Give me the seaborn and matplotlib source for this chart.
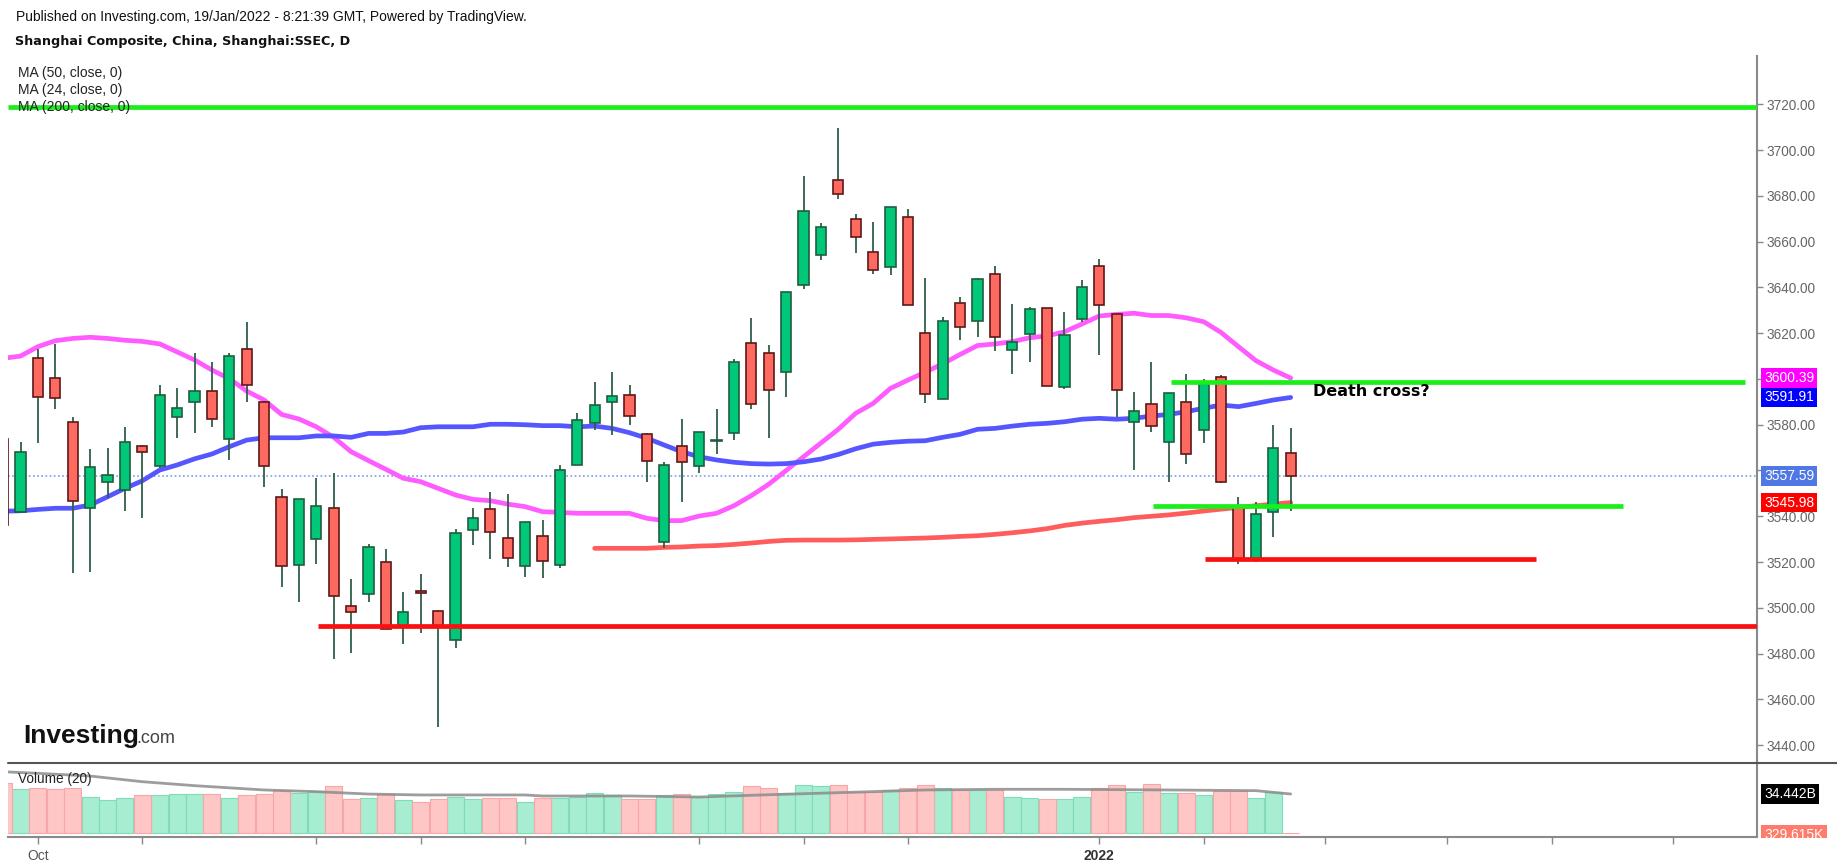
import numpy as np
import pandas as pd
import seaborn as sns
import matplotlib
matplotlib.use("Agg")
import matplotlib.pyplot as plt
from matplotlib import transforms
from matplotlib.lines import Line2D
from matplotlib.patches import Rectangle

# ---- data (daily candles, index 0 = 30 Sep 2021) ----
day_idx = list(range(-1, 74))

opens = [3573.8, 3541.8, 3609.0, 3600.3, 3581.2, 3543.5, 3554.8, 3551.6, 3570.8, 3562.0,
         3583.2, 3589.8, 3594.7, 3573.9, 3612.9, 3589.9, 3548.4, 3518.8, 3530.2, 3543.5,
         3500.8, 3505.9, 3519.9, 3491.5, 3507.2, 3498.7, 3486.0, 3534.0, 3543.0, 3530.4,
         3518.3, 3531.4, 3518.7, 3562.5, 3580.6, 3589.8, 3593.1, 3576.1, 3528.6, 3570.7,
         3561.9, 3573.0, 3576.2, 3615.6, 3611.2, 3602.9, 3641.2, 3654.2, 3687.1, 3670.1,
         3655.3, 3648.8, 3670.8, 3620.0, 3591.4, 3633.0, 3625.3, 3645.7, 3612.6, 3619.8,
         3630.9, 3596.4, 3626.3, 3649.5, 3628.2, 3581.1, 3588.9, 3572.3, 3589.9, 3577.7,
         3600.7, 3543.9, 3521.3, 3541.8, 3567.5]
highs = [3575.0, 3572.6, 3612.9, 3615.3, 3583.5, 3569.2, 3569.7, 3579.1, 3571.1, 3597.2,
         3596.0, 3611.3, 3607.5, 3611.2, 3625.0, 3590.5, 3551.8, 3547.6, 3556.8, 3558.8,
         3512.4, 3527.9, 3525.6, 3507.0, 3514.8, 3499.2, 3534.3, 3543.5, 3550.7, 3549.7,
         3537.6, 3538.4, 3562.4, 3585.0, 3598.8, 3603.2, 3597.2, 3576.3, 3563.7, 3582.5,
         3576.9, 3586.9, 3608.6, 3626.6, 3614.7, 3638.2, 3688.8, 3668.0, 3709.5, 3671.9,
         3668.7, 3675.3, 3674.3, 3644.0, 3627.1, 3635.9, 3644.1, 3649.2, 3632.6, 3631.6,
         3631.1, 3629.4, 3643.2, 3652.4, 3628.4, 3594.3, 3607.5, 3593.9, 3602.2, 3600.0,
         3601.7, 3548.5, 3546.2, 3579.7, 3578.6]
lows = [3530.0, 3541.8, 3572.1, 3586.9, 3515.3, 3515.8, 3547.8, 3542.4, 3539.4, 3561.0,
        3574.3, 3576.5, 3579.1, 3564.6, 3590.0, 3552.9, 3509.2, 3502.7, 3519.1, 3477.5,
        3480.4, 3502.7, 3490.9, 3484.2, 3489.1, 3448.0, 3482.6, 3527.4, 3521.3, 3518.0,
        3513.6, 3513.2, 3517.5, 3562.3, 3577.7, 3575.5, 3579.7, 3555.1, 3526.3, 3546.4,
        3559.0, 3567.2, 3573.3, 3586.9, 3574.0, 3592.2, 3639.4, 3652.0, 3678.6, 3655.2,
        3645.8, 3645.3, 3632.2, 3589.6, 3591.2, 3617.0, 3618.5, 3612.3, 3602.2, 3607.5,
        3596.7, 3595.6, 3625.0, 3610.3, 3583.5, 3560.2, 3576.9, 3555.1, 3562.7, 3572.1,
        3554.6, 3519.1, 3519.9, 3531.1, 3542.2]
closes = [3536.2, 3568.0, 3592.1, 3591.5, 3546.7, 3561.4, 3558.2, 3572.3, 3567.9, 3593.1,
          3587.2, 3594.7, 3582.6, 3610.0, 3597.5, 3561.9, 3518.3, 3547.4, 3544.6, 3505.2,
          3498.0, 3526.4, 3490.9, 3498.2, 3506.6, 3492.0, 3532.6, 3539.1, 3533.0, 3521.6,
          3537.5, 3520.3, 3560.3, 3582.2, 3588.7, 3592.5, 3583.7, 3564.2, 3562.5, 3563.6,
          3576.7, 3573.4, 3607.4, 3589.2, 3595.2, 3638.0, 3673.4, 3666.4, 3680.9, 3661.9,
          3647.6, 3675.1, 3632.4, 3593.5, 3625.4, 3622.6, 3643.5, 3618.2, 3616.0, 3630.4,
          3596.9, 3619.3, 3640.2, 3632.3, 3595.2, 3586.0, 3579.4, 3593.7, 3567.3, 3597.7,
          3554.8, 3520.9, 3541.2, 3569.7, 3557.59]

ma24 = [3609.0, 3610.0, 3614.1, 3616.7, 3617.7, 3618.2, 3617.7, 3616.9, 3616.4, 3615.3,
        3611.8, 3608.3, 3603.9, 3600.1, 3594.7, 3590.8, 3584.5, 3582.5, 3579.1, 3574.5,
        3568.2, 3564.3, 3560.5, 3556.6, 3555.1, 3552.2, 3549.3, 3547.4, 3546.8, 3545.3,
        3544.2, 3542.0, 3541.7, 3541.3, 3541.3, 3541.3, 3541.3, 3539.1, 3538.1, 3538.1,
        3540.1, 3541.3, 3544.6, 3549.0, 3554.0, 3560.0, 3566.0, 3572.0, 3578.0, 3585.0,
        3589.3, 3595.9, 3599.5, 3603.0, 3606.6, 3610.7, 3614.6, 3615.3, 3616.3, 3618.0,
        3618.8, 3620.6, 3624.0, 3627.5, 3628.2, 3628.7, 3627.7, 3627.7, 3626.7, 3625.0,
        3620.3, 3614.1, 3608.0, 3603.9, 3600.39]
ma50 = [3542.2, 3542.4, 3543.0, 3543.5, 3543.5, 3544.9, 3548.5, 3552.2, 3555.5, 3560.2,
        3562.4, 3565.1, 3567.2, 3570.4, 3573.3, 3574.3, 3574.3, 3574.3, 3575.1, 3575.1,
        3574.5, 3576.2, 3576.2, 3576.8, 3578.7, 3579.1, 3579.1, 3579.1, 3580.2, 3580.2,
        3580.0, 3579.6, 3579.6, 3579.1, 3579.4, 3578.4, 3576.5, 3574.1, 3571.1, 3568.2,
        3566.0, 3564.6, 3563.6, 3563.0, 3562.8, 3563.0, 3563.8, 3565.0, 3567.0, 3569.5,
        3571.5, 3572.3, 3572.8, 3573.0, 3574.5, 3575.8, 3578.0, 3578.4, 3579.4, 3580.2,
        3580.6, 3581.3, 3582.4, 3582.8, 3582.4, 3582.8, 3583.8, 3584.5, 3585.7, 3587.2,
        3588.6, 3587.9, 3589.3, 3590.8, 3591.91]
ma200_idx = list(range(33, 74))
ma200 = [3526.0, 3526.0, 3526.0, 3526.0, 3526.4, 3526.6, 3527.0, 3527.2, 3527.7, 3528.3,
         3529.0, 3529.5, 3529.6, 3529.6, 3529.6, 3529.7, 3529.9, 3530.1, 3530.3, 3530.5,
         3530.8, 3531.2, 3531.5, 3532.1, 3532.8, 3533.6, 3534.6, 3536.0, 3537.0, 3537.8,
         3538.5, 3539.4, 3540.0, 3540.6, 3541.4, 3542.3, 3543.1, 3543.9, 3544.6, 3545.3,
         3545.98]

# volume in billions
volume = [44.4, 38.6, 39.7, 38.6, 39.7, 32.1, 28.9, 30.6, 33.3, 33.3,
          34.2, 34.2, 34.2, 30.9, 33.3, 34.2, 37.7, 35.3, 37.4, 41.2,
          29.8, 30.9, 34.4, 28.9, 27.7, 29.8, 32.1, 29.8, 30.9, 30.9,
          27.7, 30.9, 30.9, 32.1, 35.3, 33.3, 29.8, 29.8, 33.3, 34.4,
          31.8, 34.2, 36.6, 41.2, 39.7, 35.1, 42.1, 41.2, 42.1, 36.2,
          36.2, 37.7, 39.7, 42.1, 39.7, 38.3, 37.7, 38.3, 31.8, 30.9,
          29.8, 29.8, 32.1, 39.7, 42.1, 36.2, 43.0, 35.3, 35.3, 33.3,
          36.8, 36.8, 30.9, 36.2, 0.00033]
vol_ma_idx = [-1, 1, 4, 7, 10, 14, 17, 20, 23, 29, 30, 35, 39, 43, 47, 52, 56, 60, 66, 71, 73]
vol_ma = [54.1, 52.7, 50.3, 45.3, 41.8, 38.0, 36.5, 34.4, 33.6, 33.6, 32.7, 32.7, 31.8,
          33.8, 35.6, 38.0, 38.6, 38.6, 38.0, 37.4, 34.442]

# drawn levels: price, from day, to day, colour
level_price = [3719.0, 3598.6, 3544.6, 3521.2, 3492.1]
level_from = [-0.72, 66.1, 65.1, 68.1, 17.1]
level_to = [99.8, 99.1, 92.1, 87.1, 99.8]
level_color = ["#1aef1a", "#1aef1a", "#1aef1a", "#fa1010", "#fa1010"]

price_ticks = list(range(3440, 3721, 20))
hidden_ticks = [3560, 3600]  # covered by the value boxes in the original
date_ticks = [1, 7, 17, 23, 29, 39, 45, 51, 62, 68, 75, 82, 88, 95]
date_labels = ["Oct", "", "", "", "", "", "", "", "2022", "", "", "", "", ""]

last_price = 3557.59

# ---- style ----
sns.set_theme(style="white")
plt.rcParams["font.family"] = ["Liberation Sans", "DejaVu Sans"]

W, H = 1837, 866
fig = plt.figure(figsize=(W / 100, H / 100), dpi=100)
ax = fig.add_axes([8 / W, (H - 763) / H, (1757 - 8) / W, (763 - 56) / H])
axv = fig.add_axes([8 / W, (H - 837) / H, (1757 - 8) / W, (837 - 763) / H], sharex=ax)

df = pd.DataFrame({"day": day_idx, "open": opens, "high": highs, "low": lows,
                   "close": closes, "ma24": ma24, "ma50": ma50, "volume": volume})
df["up"] = df["close"] >= df["open"]
df["bottom"] = df[["open", "close"]].min(axis=1)
df["height"] = (df["close"] - df["open"]).abs()

green, green_edge = "#00c878", "#1f5e40"
red, red_edge = "#ff6a60", "#5e1818"

# moving averages
sns.lineplot(data=df, x="day", y="ma24", ax=ax, color="#ff5cff", lw=3.4,
             estimator=None, sort=False, zorder=2)
sns.lineplot(data=df, x="day", y="ma50", ax=ax, color="#5656ff", lw=3.4,
             estimator=None, sort=False, zorder=2)
sns.lineplot(x=ma200_idx, y=ma200, ax=ax, color="#ff5c5c", lw=3.4,
             estimator=None, sort=False, zorder=2)

# candles
ax.vlines(df["day"], df["low"], df["high"], color="#2f5f48", lw=1.3, zorder=3)
up = df[df["up"]]
dn = df[~df["up"]]
ax.bar(up["day"], up["height"], bottom=up["bottom"], width=0.58, color=green,
       edgecolor=green_edge, linewidth=1.2, zorder=4)
ax.bar(dn["day"], dn["height"], bottom=dn["bottom"], width=0.58, color=red,
       edgecolor=red_edge, linewidth=1.2, zorder=4)

# horizontal levels
for p, a, b, c in zip(level_price, level_from, level_to, level_color):
    ax.plot([a, b], [p, p], color=c, lw=3.4, solid_capstyle="butt", zorder=5)
ax.axhline(last_price, color="#7c9cf0", lw=1.2, ls=(0, (1, 1.5)), zorder=1)

ax.text(74.3, 3594.7, "Death cross?", fontsize=11.5, fontweight="bold",
        family="DejaVu Sans", color="black", va="center", ha="left", zorder=6)

ax.set_xlim(-0.72, 99.8)
ax.set_ylim(3432.2, 3741.1)
ax.set_xlabel("")
ax.set_ylabel("")
ax.yaxis.tick_right()
ax.set_yticks(price_ticks)
ax.set_yticklabels(["" if v in hidden_ticks else f"{v:.2f}" for v in price_ticks])
ax.tick_params(axis="y", right=True, length=4, width=1, color="#888888",
               labelsize=9.8, labelcolor="#666666", pad=3)
ax.tick_params(axis="x", bottom=False, labelbottom=False)
for s in ["top", "left", "bottom"]:
    ax.spines[s].set_visible(False)
ax.spines["right"].set_color("#8a8a8a")
ax.spines["right"].set_linewidth(1.5)

# price boxes on the axis
tr = transforms.blended_transform_factory(ax.transAxes, ax.transData)
for val, col in [(3600.39, "#ff00ff"), (3591.91, "#0000ff"),
                 (last_price, "#4f78e4"), (3545.98, "#ff0000")]:
    ax.text(1.0 + 7 / 1749, val, f"{val:.2f}", transform=tr, fontsize=10,
            color="white", va="center", ha="left", clip_on=False, zorder=10,
            bbox=dict(boxstyle="square,pad=0.2", fc=col, ec="none"))

# volume pane
vup = df[df["up"]]
vdn = df[~df["up"]]
axv.bar(vup["day"], vup["volume"], width=0.98, color="#a6edd1",
        edgecolor="#7fdcb6", linewidth=0.8, zorder=2)
axv.bar(vdn["day"], vdn["volume"], width=0.98, color="#ffc6c6",
        edgecolor="#f7a7a7", linewidth=0.8, zorder=2)
sns.lineplot(x=vol_ma_idx, y=vol_ma, ax=axv, color="#8c8c8c", lw=2, alpha=0.85,
             estimator=None, sort=False, zorder=3)
axv.set_ylim(-3.5, 61.8)
axv.set_yticks([])
axv.set_xlabel("")
axv.set_ylabel("")
axv.set_xticks(date_ticks)
axv.set_xticklabels(date_labels)
axv.tick_params(axis="x", bottom=True, length=5, width=1, color="#888888",
                labelsize=10, labelcolor="#555555", pad=4)
for lab in axv.get_xticklabels():
    if lab.get_text() == "2022":
        lab.set_fontweight("bold")
        lab.set_color("#333333")
for s in ["top", "left"]:
    axv.spines[s].set_visible(False)
for s in ["right", "bottom"]:
    axv.spines[s].set_color("#8a8a8a")
    axv.spines[s].set_linewidth(1.5)

trv = transforms.blended_transform_factory(axv.transAxes, axv.transData)
axv.text(1.0 + 7 / 1749, 34.442, "34.442B", transform=trv, fontsize=10,
         color="white", va="center", ha="left", clip_on=False, zorder=10,
         bbox=dict(boxstyle="square,pad=0.25", fc="black", ec="none"))
axv.text(1.0 + 7 / 1749, -1.8, "329.615K", transform=trv, fontsize=10,
         color="white", va="center", ha="left", clip_on=False, zorder=10,
         bbox=dict(boxstyle="square,pad=0.25", fc="#ff7b6b", ec="none"))
axv.text(10 / 1749, 0.78, "Volume (20)", transform=axv.transAxes, fontsize=9.8,
         color="#222222", va="center", ha="left", zorder=6)

# pane separator and cover below the volume pane on the axis side
fig.add_artist(Line2D([8 / W, 1.0], [(H - 763) / H] * 2, color="#555555", lw=1.5))
fig.add_artist(Rectangle((1758 / W, 0), 1 - 1758 / W, (H - 838) / H,
                         transform=fig.transFigure, fc="white", ec="none", zorder=5))

# header texts
fig.text(16 / W, 1 - 17 / H, "Published on Investing.com, 19/Jan/2022 - 8:21:39 GMT, "
         "Powered by TradingView.", fontsize=10, va="center", ha="left", color="#111111")
fig.text(15 / W, 1 - 41 / H, "Shanghai Composite, China, Shanghai:SSEC, D",
         fontsize=9.2, fontweight="bold", family="DejaVu Sans", va="center",
         ha="left", color="#111111")
for i, t in enumerate(["MA (50, close, 0)", "MA (24, close, 0)", "MA (200, close, 0)"]):
    fig.text(18 / W, 1 - (73 + 17 * i) / H, t, fontsize=10, va="center", ha="left",
             color="#222222", zorder=0)

# watermark logo
fig.text(23 / W, 1 - 743 / H, "Investing", fontsize=19, fontweight="bold",
         va="baseline", ha="left", color="#111111")
fig.text(136 / W, 1 - 743 / H, ".com", fontsize=13, va="baseline", ha="left",
         color="#444444")

fig.savefig("out.png", dpi=100, facecolor="white")
